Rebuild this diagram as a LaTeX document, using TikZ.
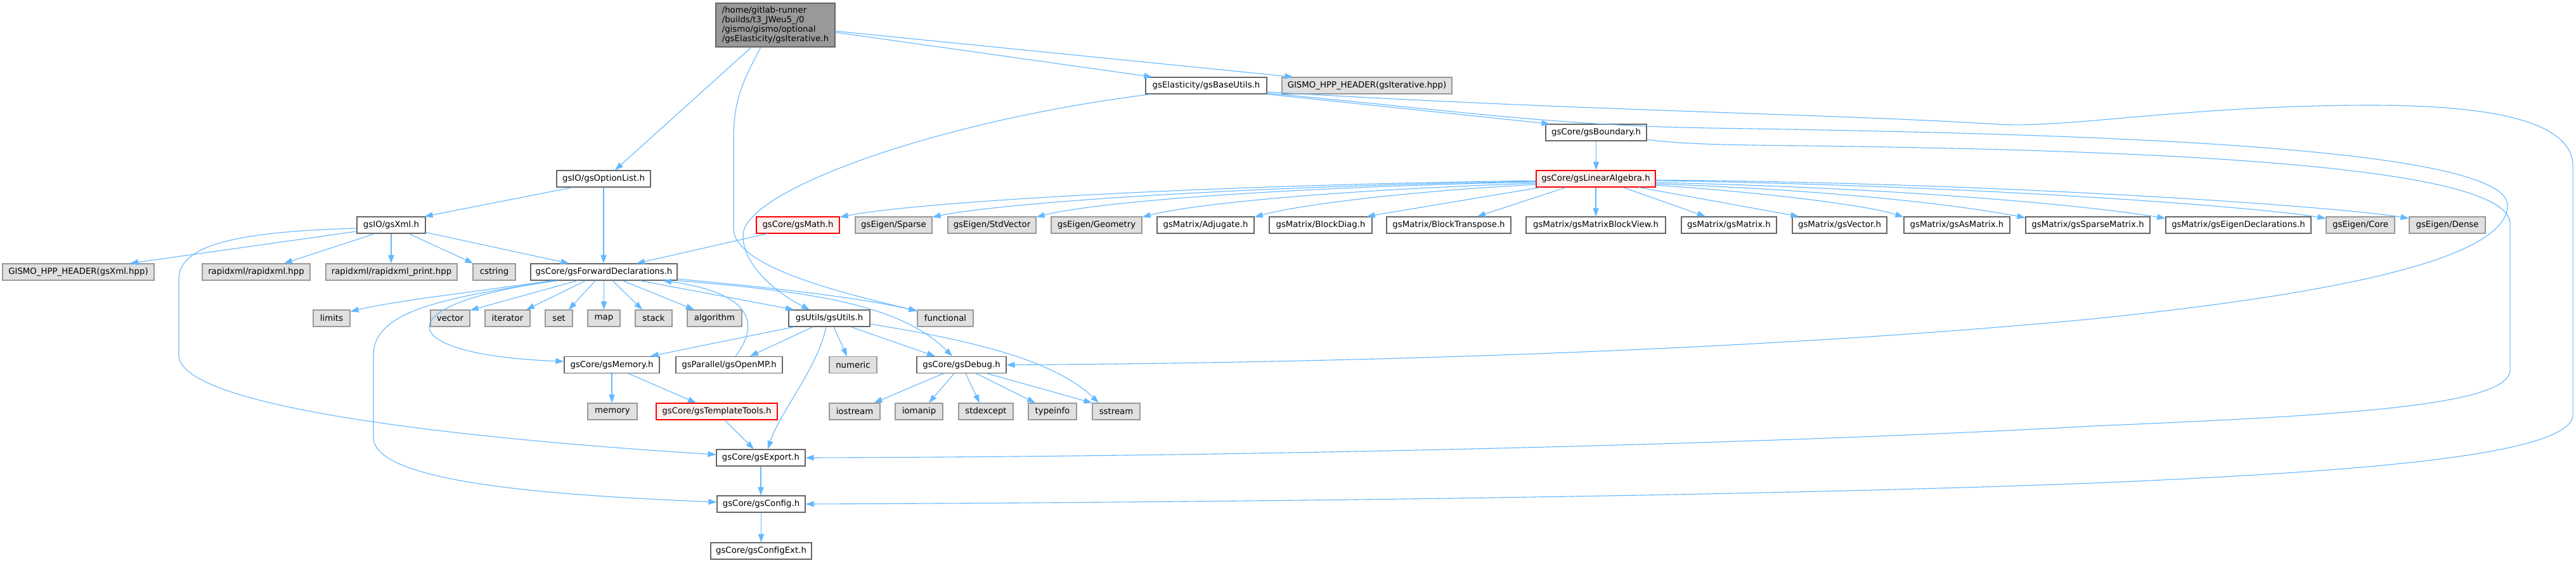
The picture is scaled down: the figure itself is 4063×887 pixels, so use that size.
\documentclass[tikz,border=0pt]{standalone}
\usepackage{fontspec}
\setmainfont{DejaVu Sans}
\usetikzlibrary{arrows.meta,calc}
\definecolor{edgeblue}{HTML}{63B8FF}
\definecolor{grey40}{HTML}{666666}
\definecolor{grey60}{HTML}{999999}
\definecolor{extfill}{HTML}{E0E0E0}
\definecolor{redfill}{HTML}{FFF0F0}
\definecolor{rootfill}{HTML}{999999}
\begin{document}
\begin{tikzpicture}[x=1pt,y=-1pt,font=\fontsize{13.3}{15}\selectfont,
  nd/.style={draw=grey40,fill=white,line width=1.2pt,minimum height=26pt,inner sep=0pt,text=black},
  ext/.style={nd,draw=grey60,fill=extfill},
  redn/.style={nd,draw=red,fill=redfill},
  rootn/.style={nd,fill=rootfill,minimum height=69pt,align=left},
  dep/.style={draw=edgeblue,line width=1.1pt,-{Triangle[length=13pt,width=9pt]}}]
\path[fill=white,use as bounding box] (0,0) rectangle (4063,887);
% nodes
\node[rootn,minimum width=188pt] (root) at (1223,39.5) {/home/gitlab-runner\\/builds/t3\_JWeu5\_/0\\/gismo/gismo/optional\\/gsElasticity/gsIterative.h};
\node[nd,minimum width=191pt] (baseutils) at (1902.5,135) {gsElasticity/gsBaseUtils.h};
\node[ext,minimum width=268pt] (hppiter) at (2156,135) {GISMO\_HPP\_HEADER(gsIterative.hpp)};
\node[nd,minimum width=159pt] (boundary) at (2517.5,209) {gsCore/gsBoundary.h};
\node[nd,minimum width=148pt] (optionlist) at (952,282) {gsIO/gsOptionList.h};
\node[redn,minimum width=188pt] (linalg) at (2517,282) {gsCore/gsLinearAlgebra.h};
\node[nd,minimum width=108pt] (xml) at (617,355) {gsIO/gsXml.h};
\node[redn,minimum width=131pt] (math) at (1258.5,355) {gsCore/gsMath.h};
\node[ext,minimum width=121pt] (eigsparse) at (1409.5,355) {gsEigen/Sparse};
\node[ext,minimum width=139pt] (stdvector) at (1564.5,355) {gsEigen/StdVector};
\node[ext,minimum width=143pt] (geometry) at (1729.5,355) {gsEigen/Geometry};
\node[nd,minimum width=153pt] (adjugate) at (1901.5,355) {gsMatrix/Adjugate.h};
\node[nd,minimum width=162pt] (blockdiag) at (2083,355) {gsMatrix/BlockDiag.h};
\node[nd,minimum width=196pt] (blocktranspose) at (2285,355) {gsMatrix/BlockTranspose.h};
\node[nd,minimum width=220pt] (blockview) at (2517,355) {gsMatrix/gsMatrixBlockView.h};
\node[nd,minimum width=150pt] (gsmatrix) at (2727,355) {gsMatrix/gsMatrix.h};
\node[nd,minimum width=149pt] (gsvector) at (2901.5,355) {gsMatrix/gsVector.h};
\node[nd,minimum width=167pt] (asmatrix) at (3086.5,355) {gsMatrix/gsAsMatrix.h};
\node[nd,minimum width=196pt] (sparsematrix) at (3293,355) {gsMatrix/gsSparseMatrix.h};
\node[nd,minimum width=229pt] (eigendecl) at (3530.5,355) {gsMatrix/gsEigenDeclarations.h};
\node[ext,minimum width=108pt] (eigcore) at (3723,355) {gsEigen/Core};
\node[ext,minimum width=120pt] (eigdense) at (3860,355) {gsEigen/Dense};
\node[ext,minimum width=239pt] (hppxml) at (123.5,429) {GISMO\_HPP\_HEADER(gsXml.hpp)};
\node[ext,minimum width=170pt] (rapidxml) at (404,429) {rapidxml/rapidxml.hpp};
\node[ext,minimum width=207pt] (rapidxmlprint) at (617.5,429) {rapidxml/rapidxml\_print.hpp};
\node[ext,minimum width=67pt] (cstring) at (779.5,429) {cstring};
\node[nd,minimum width=231pt] (fwd) at (952.5,429) {gsCore/gsForwardDeclarations.h};
\node[ext,minimum width=58pt] (nlimits) at (523,502) {limits};
\node[ext,minimum width=62pt] (nvector) at (710,502) {vector};
\node[ext,minimum width=71pt] (niterator) at (800.5,502) {iterator};
\node[ext,minimum width=43pt] (nset) at (881.5,502) {set};
\node[ext,minimum width=51pt] (nmap) at (952.5,502) {map};
\node[ext,minimum width=58pt] (nstack) at (1031,502) {stack};
\node[ext,minimum width=86pt] (nalgorithm) at (1127,502) {algorithm};
\node[nd,minimum width=128pt] (utils) at (1308,502) {gsUtils/gsUtils.h};
\node[ext,minimum width=88pt] (nfunctional) at (1491,502) {functional};
\node[nd,minimum width=150pt] (memh) at (965,575.5) {gsCore/gsMemory.h};
\node[nd,minimum width=168pt] (openmp) at (1150,575.5) {gsParallel/gsOpenMP.h};
\node[ext,minimum width=75pt] (nnumeric) at (1345.5,575.5) {numeric};
\node[nd,minimum width=141pt] (debug) at (1516.5,575.5) {gsCore/gsDebug.h};
\node[ext,minimum width=78pt] (nmemory) at (966,649) {memory};
\node[redn,minimum width=191pt] (templatetools) at (1130.5,649) {gsCore/gsTemplateTools.h};
\node[ext,minimum width=80pt] (niostream) at (1348,649) {iostream};
\node[ext,minimum width=75pt] (niomanip) at (1449.5,649) {iomanip};
\node[ext,minimum width=86pt] (nstdexcept) at (1555,649) {stdexcept};
\node[ext,minimum width=76pt] (ntypeinfo) at (1660,649) {typeinfo};
\node[ext,minimum width=75pt] (nsstream) at (1760.5,649) {sstream};
\node[nd,minimum width=140pt] (export) at (1200,722) {gsCore/gsExport.h};
\node[nd,minimum width=139pt] (config) at (1200.5,795) {gsCore/gsConfig.h};
\node[nd,minimum width=159pt] (configext) at (1200.5,869) {gsCore/gsConfigExt.h};
% edges from root
\draw[dep] ([xshift=-38pt]root.south) -- ([xshift=18pt]optionlist.north);
\draw[dep] ([xshift=-23pt]root.south) .. controls (1170,130) and (1157,160) .. (1157,220) -- (1157,360) .. controls (1157,420) and (1320,460) .. ([yshift=-2pt]nfunctional.north west);
\draw[dep] ([yshift=-11.5pt]root.east) -- ([xshift=11pt]baseutils.north west);
\draw[dep] ([yshift=-9.5pt]root.east) -- ([xshift=18pt]hppiter.north west);
% baseutils
\draw[dep] (baseutils.south east) -- ([xshift=7pt]boundary.north west);
\draw[dep] ([xshift=9pt]baseutils.south west) .. controls (1480,190) and (1175,300) .. (1172,370) .. controls (1170,420) and (1230,465) .. ([xshift=-31pt]utils.north);
\draw[dep] ([yshift=-10pt]baseutils.east) .. controls (2500,175) and (2900,180) .. (3150,196) .. controls (3260,203) and (3450,166) .. (3740,166) .. controls (3960,166) and (4058,200) .. (4058,262) -- (4058,654) .. controls (4058,720) and (3700,745) .. (3300,762) .. controls (2700,785) and (1800,793) .. (config.east);
\draw[dep] ([yshift=-12pt]baseutils.east) .. controls (2300,175) and (2450,198) .. (2700,202) .. controls (3200,210) and (3955,225) .. (3955,324) .. controls (3955,420) and (3600,472) .. (3300,503) .. controls (2700,560) and (2000,573) .. (debug.east);
% boundary
\draw[dep] ([yshift=-11pt]boundary.east) .. controls (2650,228) and (2750,229) .. (2850,230) .. controls (3400,237) and (3959,260) .. (3959,353) -- (3959,583) .. controls (3959,640) and (3700,655) .. (3300,672) .. controls (2800,700) and (2000,720) .. (export.east);
\draw[dep] (boundary.south) -- (boundary.south |- linalg.north);
% linear algebra
\draw[dep] ([yshift=-3pt]linalg.west) .. controls (1900,292) and (1450,318) .. ([yshift=-1pt]math.north east);
\draw[dep] ([yshift=-4pt]linalg.west) .. controls (1950,294) and (1580,320) .. ([yshift=-1pt]eigsparse.north east);
\draw[dep] ([yshift=-5pt]linalg.west) .. controls (2000,296) and (1720,320) .. ([yshift=-1pt]stdvector.north east);
\draw[dep] ([yshift=-7pt]linalg.west) .. controls (2100,300) and (1880,322) .. ([yshift=-1pt]geometry.north east);
\draw[dep] ([yshift=-9pt]linalg.west) .. controls (2200,303) and (2040,325) .. ([yshift=-1pt]adjugate.north east);
\draw[dep] ([xshift=7pt]linalg.south west) -- ([xshift=-9pt]blockdiag.north east);
\draw[dep] ([xshift=-47pt]linalg.south) -- ([xshift=45pt]blocktranspose.north);
\draw[dep] (linalg.south) -- (blockview.north);
\draw[dep] ([xshift=43pt]linalg.south) -- ([xshift=-37pt]gsmatrix.north);
\draw[dep] ([xshift=68pt]linalg.south) -- ([xshift=11pt]gsvector.north west);
\draw[dep] ([yshift=-10pt]linalg.east) .. controls (2800,305) and (2950,325) .. ([yshift=-1pt]asmatrix.north west);
\draw[dep] ([yshift=-8pt]linalg.east) .. controls (2900,300) and (3100,325) .. ([yshift=-2pt]sparsematrix.north west);
\draw[dep] ([yshift=-6pt]linalg.east) .. controls (3000,296) and (3300,325) .. ([yshift=-3pt]eigendecl.north west);
\draw[dep] ([yshift=-3pt]linalg.east) .. controls (3100,292) and (3550,325) .. ([yshift=-3pt]eigcore.north west);
\draw[dep] ([yshift=-2pt]linalg.east) .. controls (3150,288) and (3680,325) .. ([yshift=-3pt]eigdense.north west);
% option list, xml, math
\draw[dep] ([xshift=-49pt]optionlist.south) -- ([xshift=-2pt]xml.north east);
\draw[dep] (optionlist.south) -- (optionlist.south |- fwd.north);
\draw[dep] ([yshift=-10pt]xml.west) -- ([xshift=81.5pt]hppxml.north);
\draw[dep] ([yshift=-5pt]xml.west) .. controls (400,365) and (282,380) .. (282,440) -- (282,560) .. controls (282,640) and (700,690) .. ([yshift=5pt]export.west);
\draw[dep] ([xshift=-26pt]xml.south) -- ([xshift=44pt]rapidxml.north);
\draw[dep] (xml.south) -- (xml.south |- rapidxmlprint.north);
\draw[dep] ([xshift=28pt]xml.south) -- ([xshift=1pt]cstring.north west);
\draw[dep] ([yshift=2pt]xml.south east) -- ([xshift=-55pt]fwd.north);
\draw[dep] ([xshift=-48.5pt]math.south) -- ([xshift=51.5pt]fwd.north);
% forward declarations
\draw[dep] ([xshift=-81.5pt]fwd.south) .. controls (750,460) and (620,475) .. ([yshift=-3pt]nlimits.north east);
\draw[dep] ([xshift=-41.5pt]fwd.south) -- ([yshift=-1pt]nvector.north east);
\draw[dep] ([xshift=-28.5pt]fwd.south) -- ([xshift=29.5pt]niterator.north);
\draw[dep] ([xshift=-13.5pt]fwd.south) -- ([xshift=15.5pt]nset.north);
\draw[dep] (fwd.south) -- (nmap.north);
\draw[dep] ([xshift=13.5pt]fwd.south) -- ([xshift=-18pt]nstack.north);
\draw[dep] ([xshift=29.5pt]fwd.south) -- ([xshift=-32pt]nalgorithm.north);
\draw[dep] ([xshift=56.5pt]fwd.south) -- ([xshift=-56pt]utils.north);
\draw[dep] ([yshift=-11pt]fwd.east) .. controls (1200,452) and (1350,468) .. ([yshift=-2pt]nfunctional.north west);
\draw[dep] (fwd.south east) .. controls (1280,460) and (1420,480) .. ([xshift=-14.5pt]debug.north);
\draw[dep] ([xshift=-72.5pt]fwd.south) .. controls (600,480) and (620,560) .. ([yshift=5.5pt]memh.west);
\draw[dep] ([xshift=-77.5pt]fwd.south) .. controls (700,470) and (589,490) .. (589,560) -- (589,690) .. controls (589,765) and (900,782) .. ([yshift=3pt]config.west);
\draw[dep] ([xshift=10pt]openmp.north) .. controls (1200,510) and (1185,462) .. ([xshift=93.5pt]fwd.south);
% utils
\draw[dep] ([xshift=9pt]utils.south west) -- ([xshift=-15pt]memh.north east);
\draw[dep] ([xshift=-26pt]utils.south) -- ([xshift=33pt]openmp.north);
\draw[dep] ([xshift=7pt]utils.south) -- ([xshift=-9.5pt]nnumeric.north);
\draw[dep] ([xshift=34pt]utils.south) -- ([xshift=-41.5pt]debug.north);
\draw[dep] ([yshift=-9pt]utils.east) .. controls (1520,535) and (1660,565) .. ([xshift=-27.5pt]nsstream.north);
\draw[dep] ([xshift=-5pt]utils.south) .. controls (1290,580) and (1230,650) .. ([xshift=11pt]export.north);
% memory, template tools, debug
\draw[dep] (memh.south) -- (memh.south |- nmemory.north);
\draw[dep] ([xshift=26pt]memh.south) -- ([xshift=-32.5pt]templatetools.north);
\draw[dep] ([xshift=12.5pt]templatetools.south) -- ([xshift=-11pt]export.north);
\draw[dep] ([xshift=-28.5pt]debug.south) -- ([xshift=-10pt]niostream.north east);
\draw[dep] ([xshift=-11.5pt]debug.south) -- ([xshift=15.5pt]niomanip.north);
\draw[dep] ([xshift=6.5pt]debug.south) -- ([xshift=-10pt]nstdexcept.north);
\draw[dep] ([xshift=23.5pt]debug.south) -- ([xshift=-27pt]ntypeinfo.north);
\draw[dep] ([xshift=40.5pt]debug.south) -- (nsstream.north west);
% export, config
\draw[dep] (export.south) -- (export.south |- config.north);
\draw[dep] (config.south) -- (configext.north);
\end{tikzpicture}
\end{document}
